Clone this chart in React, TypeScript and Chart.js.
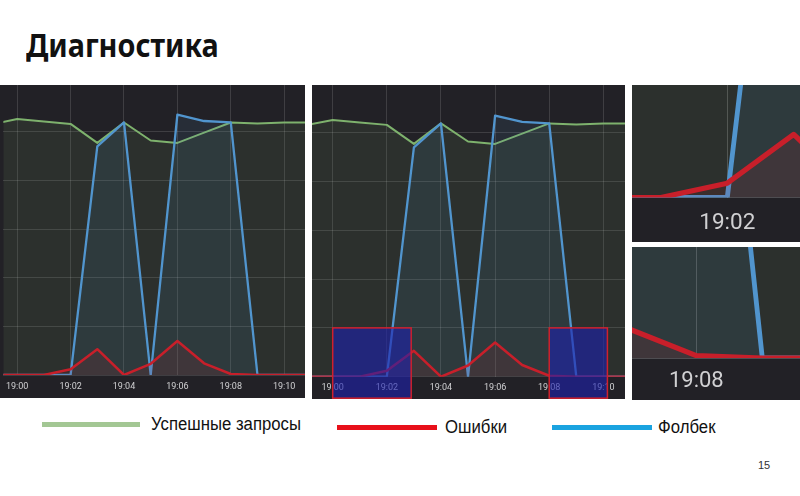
import React, { useEffect, useRef } from "react";
import { Chart, registerables } from "chart.js";

Chart.register(...registerables);

// ---- data (minutes after 19:00) ----
const minutes = [-1, 0, 1, 2, 3, 4, 5, 6, 7, 8, 9, 10, 11];
const successValues = [5.15, 5.26, 5.21, 5.16, 4.77, 5.19, 4.82, 4.77, 4.98, 5.19, 5.17, 5.19, 5.19];
const fallbackValues = [0, 0, 0, 0, 4.7, 5.19, 0, 5.35, 5.22, 5.19, 0, 0, 0];
const errorValues = [0, 0, 0, 0.12, 0.53, 0, 0.23, 0.7, 0.24, 0.02, 0, 0, 0];
const tickHour = "19";
const highlightStarts = [0, 8];
const highlightEnds = [2.9, 10.15];
const highlightTop = 1;
const highlightBottom = -0.44;

const titleText = "Диагностика";
const seriesNames = ["Успешные запросы", "Ошибки", "Фолбек"];
const pageNumber = "15";

// ---- styles ----
const GREEN = "#7eb26d";
const BLUE = "#5195ce";
const RED = "#c81f2a";
const PANEL_BG = "#222126";
const LEGEND_COLORS = ["#a3c794", "#e8101a", "#1aa3e0"];

type PanelCfg = {
  left: number; top: number; width: number; height: number;
  xMin: number; xMax: number; yMax: number; strip: number;
  fontSize: number; tickPad: number; lineScale: number; gridColor: string;
  highlight: boolean;
};

const panels: PanelCfg[] = [
  { left: 0, top: 85, width: 305, height: 313, xMin: -0.5185, xMax: 10.78, yMax: 5.96, strip: 23, fontSize: 9, tickPad: 6, lineScale: 1, gridColor: "rgba(255,255,255,0.13)", highlight: false },
  { left: 312, top: 85, width: 313, height: 314, xMin: -0.765, xMax: 10.8, yMax: 5.977, strip: 22.3, fontSize: 9, tickPad: 6, lineScale: 1, gridColor: "rgba(255,255,255,0.13)", highlight: true },
  { left: 632, top: 85, width: 168, height: 157, xMin: 0.565, xMax: 3.095, yMax: 0.945, strip: 44.5, fontSize: 22.5, tickPad: 12, lineScale: 2.1, gridColor: "rgba(255,255,255,0.2)", highlight: false },
  { left: 632, top: 247, width: 168, height: 153, xMin: 7.026, xMax: 9.571, yMax: 0.933, strip: 42, fontSize: 22, tickPad: 10, lineScale: 2.1, gridColor: "rgba(255,255,255,0.2)", highlight: false },
];

const highlightPlugin = {
  id: "highlightBoxes",
  afterDraw(chart: any) {
    const { ctx, scales } = chart;
    const x = scales.x, y = scales.y;
    ctx.save();
    highlightStarts.forEach((s, i) => {
      const x0 = x.getPixelForValue(s);
      const x1 = x.getPixelForValue(highlightEnds[i]);
      const y0 = y.getPixelForValue(highlightTop);
      const y1 = y.getPixelForValue(highlightBottom);
      ctx.fillStyle = "rgba(28,32,175,0.6)";
      ctx.fillRect(x0, y0, x1 - x0, y1 - y0);
      ctx.strokeStyle = "#d0202c";
      ctx.lineWidth = 1.5;
      ctx.strokeRect(x0, y0, x1 - x0, y1 - y0);
    });
    ctx.restore();
  },
};

function Panel({ cfg }: { cfg: PanelCfg }) {
  const ref = useRef<HTMLCanvasElement>(null);
  useEffect(() => {
    const pts = (vals: number[]) => minutes.map((m, i) => ({ x: m, y: vals[i] }));
    const lw = cfg.lineScale;
    const chart = new Chart(ref.current as HTMLCanvasElement, {
      type: "line",
      data: {
        datasets: [
          { label: seriesNames[1], data: pts(errorValues), borderColor: RED, backgroundColor: "rgba(204,31,43,0.1)", fill: "origin", borderWidth: 2.5 * lw },
          { label: seriesNames[2], data: pts(fallbackValues), borderColor: BLUE, backgroundColor: "rgba(81,149,206,0.1)", fill: "origin", borderWidth: 2.3 * lw },
          { label: seriesNames[0], data: pts(successValues), borderColor: GREEN, backgroundColor: "rgba(126,178,109,0.1)", fill: "origin", borderWidth: 2 * lw },
        ],
      },
      options: {
        responsive: false,
        maintainAspectRatio: false,
        animation: false,
        events: [],
        layout: { padding: 0 },
        plugins: { legend: { display: false }, tooltip: { enabled: false } },
        elements: { point: { radius: 0 }, line: { tension: 0, borderJoinStyle: "round" } },
        scales: {
          x: {
            type: "linear",
            min: cfg.xMin,
            max: cfg.xMax,
            border: { display: false },
            grid: { color: cfg.gridColor, drawTicks: false },
            ticks: {
              stepSize: 2,
              includeBounds: false,
              autoSkip: false,
              maxRotation: 0,
              padding: cfg.tickPad,
              color: "#d0d0d2",
              font: { family: "Roboto", size: cfg.fontSize },
              callback: (v: any) => `${tickHour}:${String(Math.round(Number(v))).padStart(2, "0")}`,
            },
            afterFit: (s: any) => { s.height = cfg.strip; },
          },
          y: {
            min: 0,
            max: cfg.yMax,
            border: { display: false },
            grid: { color: cfg.gridColor, drawTicks: false },
            ticks: { display: false, stepSize: 1, includeBounds: false },
            afterFit: (s: any) => { s.width = 0; },
          },
        },
      } as any,
      plugins: cfg.highlight ? [highlightPlugin] : [],
    });
    return () => chart.destroy();
  }, []);
  return (
    <canvas
      ref={ref}
      width={cfg.width}
      height={cfg.height}
      style={{ position: "absolute", left: cfg.left, top: cfg.top, width: cfg.width, height: cfg.height, background: PANEL_BG }}
    />
  );
}

const legendItems = [
  { lineLeft: 42, lineWidth: 98, lineY: 422, textLeft: 151, textTop: 415 },
  { lineLeft: 337, lineWidth: 100, lineY: 425, textLeft: 445, textTop: 418 },
  { lineLeft: 552, lineWidth: 100, lineY: 425, textLeft: 658, textTop: 418 },
];

export default function App() {
  return (
    <div style={{ position: "absolute", left: 0, top: 0, width: 800, height: 496, background: "#fff", overflow: "hidden" }}>
      <div style={{ position: "absolute", left: 26, top: 29, fontFamily: "'Noto Sans'", fontWeight: 700, fontSize: 32, lineHeight: "32px", color: "#111", whiteSpace: "nowrap", transform: "scaleX(0.9)", transformOrigin: "left" }}>
        {titleText}
      </div>
      {panels.map((p, i) => <Panel key={i} cfg={p} />)}
      {legendItems.map((l, i) => (
        <React.Fragment key={i}>
          <div style={{ position: "absolute", left: l.lineLeft, top: l.lineY, width: l.lineWidth, height: 4.5, background: LEGEND_COLORS[i] }} />
          <div style={{ position: "absolute", left: l.textLeft, top: l.textTop, fontFamily: "'Liberation Sans'", fontSize: 18, lineHeight: "18px", color: "#111", whiteSpace: "nowrap", transform: "scaleX(0.93)", transformOrigin: "left" }}>
            {seriesNames[i]}
          </div>
        </React.Fragment>
      ))}
      <div style={{ position: "absolute", left: 758, top: 459, fontFamily: "'Liberation Sans'", fontSize: 11, lineHeight: "12px", color: "#333" }}>
        {pageNumber}
      </div>
    </div>
  );
}
